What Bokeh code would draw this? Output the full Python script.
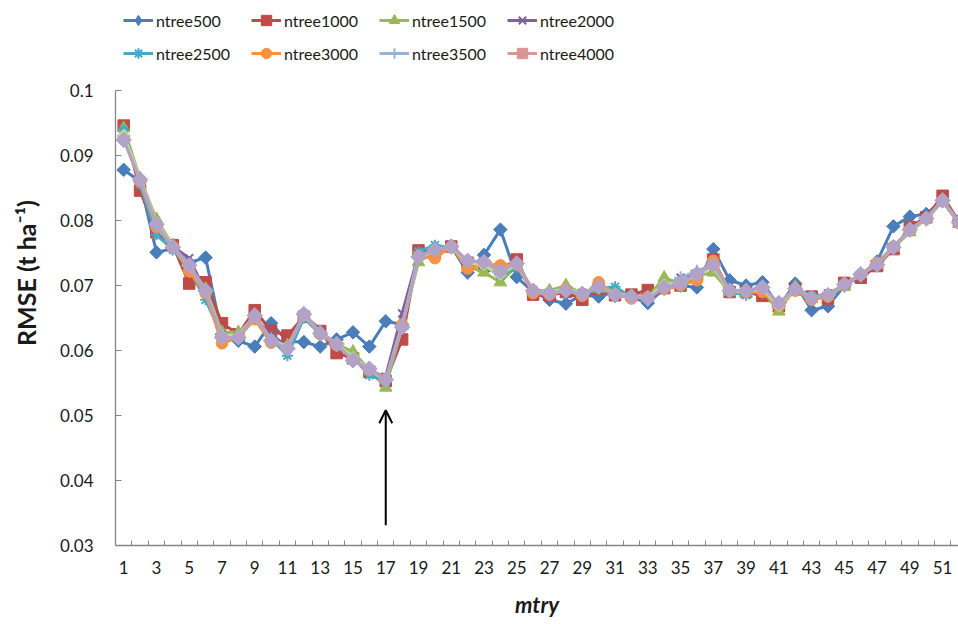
import numpy as np
from bokeh.plotting import figure
from bokeh.models import Range1d, FixedTicker, Legend, LegendItem, Arrow, OpenHead
from bokeh.embed import file_html
from bokeh.resources import INLINE

mtry = list(range(1, 53))

ntree500 = [0.0878, 0.0860, 0.0751, 0.0757, 0.0735, 0.0743, 0.0625, 0.0615, 0.0606, 0.0642,
            0.0614, 0.0613, 0.0606, 0.0617, 0.0628, 0.0606, 0.0645, 0.0640, 0.0745, 0.0758,
            0.0760, 0.0720, 0.0747, 0.0786, 0.0713, 0.0690, 0.0678, 0.0672, 0.0685, 0.0683,
            0.0690, 0.0682, 0.0673, 0.0695, 0.0700, 0.0697, 0.0756, 0.0708, 0.0700, 0.0705,
            0.0668, 0.0703, 0.0662, 0.0668, 0.0700, 0.0716, 0.0737, 0.0791, 0.0806, 0.0810,
            0.0831, 0.0800]
ntree1000 = [0.0946, 0.0846, 0.0782, 0.0762, 0.0703, 0.0705, 0.0642, 0.0625, 0.0662, 0.0630,
             0.0623, 0.0652, 0.0630, 0.0596, 0.0588, 0.0567, 0.0553, 0.0617, 0.0754, 0.0750,
             0.0760, 0.0735, 0.0730, 0.0725, 0.0740, 0.0686, 0.0685, 0.0690, 0.0678, 0.0695,
             0.0685, 0.0686, 0.0693, 0.0696, 0.0700, 0.0715, 0.0740, 0.0690, 0.0690, 0.0684,
             0.0668, 0.0694, 0.0683, 0.0680, 0.0704, 0.0712, 0.0730, 0.0756, 0.0790, 0.0805,
             0.0838, 0.0798]
ntree1500 = [0.0942, 0.0865, 0.0802, 0.0762, 0.0728, 0.0695, 0.0628, 0.0628, 0.0650, 0.0618,
             0.0608, 0.0652, 0.0628, 0.0610, 0.0598, 0.0570, 0.0543, 0.0638, 0.0736, 0.0752,
             0.0760, 0.0730, 0.0720, 0.0705, 0.0730, 0.0692, 0.0692, 0.0700, 0.0688, 0.0695,
             0.0690, 0.0685, 0.0682, 0.0712, 0.0703, 0.0715, 0.0720, 0.0690, 0.0688, 0.0693,
             0.0660, 0.0698, 0.0680, 0.0684, 0.0698, 0.0718, 0.0732, 0.0758, 0.0782, 0.0802,
             0.0830, 0.0795]
ntree2000 = [0.0936, 0.0858, 0.0790, 0.0760, 0.0742, 0.0690, 0.0625, 0.0622, 0.0650, 0.0625,
             0.0605, 0.0655, 0.0632, 0.0605, 0.0590, 0.0568, 0.0560, 0.0657, 0.0748, 0.0755,
             0.0762, 0.0736, 0.0733, 0.0718, 0.0730, 0.0690, 0.0686, 0.0693, 0.0689, 0.0697,
             0.0688, 0.0683, 0.0685, 0.0698, 0.0712, 0.0718, 0.0728, 0.0694, 0.0688, 0.0695,
             0.0670, 0.0693, 0.0680, 0.0688, 0.0700, 0.0716, 0.0733, 0.0758, 0.0786, 0.0802,
             0.0830, 0.0796]
ntree2500 = [0.0940, 0.0855, 0.0778, 0.0755, 0.0725, 0.0678, 0.0622, 0.0620, 0.0652, 0.0618,
             0.0592, 0.0650, 0.0625, 0.0608, 0.0590, 0.0562, 0.0552, 0.0635, 0.0752, 0.0762,
             0.0758, 0.0738, 0.0730, 0.0715, 0.0728, 0.0693, 0.0690, 0.0692, 0.0686, 0.0695,
             0.0698, 0.0682, 0.0683, 0.0700, 0.0705, 0.0716, 0.0730, 0.0690, 0.0685, 0.0693,
             0.0670, 0.0696, 0.0684, 0.0686, 0.0700, 0.0716, 0.0733, 0.0758, 0.0786, 0.0803,
             0.0830, 0.0797]
ntree3000 = [0.0925, 0.0860, 0.0790, 0.0760, 0.0722, 0.0688, 0.0611, 0.0620, 0.0648, 0.0612,
             0.0605, 0.0655, 0.0625, 0.0608, 0.0586, 0.0570, 0.0556, 0.0640, 0.0745, 0.0742,
             0.0760, 0.0726, 0.0733, 0.0731, 0.0732, 0.0688, 0.0686, 0.0694, 0.0684, 0.0705,
             0.0686, 0.0680, 0.0682, 0.0695, 0.0700, 0.0708, 0.0738, 0.0692, 0.0690, 0.0690,
             0.0668, 0.0692, 0.0678, 0.0683, 0.0702, 0.0717, 0.0735, 0.0760, 0.0785, 0.0803,
             0.0830, 0.0796]
ntree3500 = [0.0930, 0.0862, 0.0792, 0.0758, 0.0730, 0.0690, 0.0622, 0.0621, 0.0652, 0.0616,
             0.0602, 0.0654, 0.0628, 0.0609, 0.0587, 0.0571, 0.0556, 0.0637, 0.0745, 0.0756,
             0.0760, 0.0737, 0.0735, 0.0721, 0.0733, 0.0693, 0.0688, 0.0691, 0.0688, 0.0698,
             0.0686, 0.0683, 0.0681, 0.0698, 0.0712, 0.0722, 0.0733, 0.0692, 0.0691, 0.0696,
             0.0673, 0.0695, 0.0681, 0.0686, 0.0702, 0.0717, 0.0732, 0.0759, 0.0786, 0.0803,
             0.0831, 0.0797]
ntree4000 = [0.0928, 0.0864, 0.0795, 0.0760, 0.0733, 0.0693, 0.0621, 0.0622, 0.0655, 0.0614,
             0.0604, 0.0656, 0.0629, 0.0611, 0.0586, 0.0572, 0.0556, 0.0636, 0.0746, 0.0754,
             0.0760, 0.0739, 0.0735, 0.0724, 0.0736, 0.0691, 0.0687, 0.0693, 0.0686, 0.0699,
             0.0686, 0.0682, 0.0681, 0.0696, 0.0704, 0.0717, 0.0733, 0.0693, 0.0692, 0.0697,
             0.0672, 0.0694, 0.0681, 0.0685, 0.0702, 0.0716, 0.0733, 0.0758, 0.0787, 0.0803,
             0.0832, 0.0797]
# two further series drawn in the picture (pale green line, lavender markers) without legend entries
ntree4500 = [0.0932, 0.0866, 0.0797, 0.0761, 0.0729, 0.0694, 0.0624, 0.0623, 0.0653, 0.0617,
             0.0606, 0.0654, 0.0627, 0.0610, 0.0590, 0.0571, 0.0553, 0.0638, 0.0742, 0.0754,
             0.0760, 0.0735, 0.0731, 0.0716, 0.0733, 0.0692, 0.0690, 0.0695, 0.0688, 0.0697,
             0.0688, 0.0684, 0.0682, 0.0702, 0.0704, 0.0716, 0.0728, 0.0691, 0.0690, 0.0695,
             0.0668, 0.0696, 0.0681, 0.0685, 0.0701, 0.0717, 0.0732, 0.0758, 0.0785, 0.0802,
             0.0831, 0.0796]
ntree5000 = [0.0924, 0.0863, 0.0794, 0.0759, 0.0731, 0.0692, 0.0620, 0.0620, 0.0654, 0.0615,
             0.0603, 0.0656, 0.0626, 0.0610, 0.0585, 0.0572, 0.0555, 0.0636, 0.0744, 0.0755,
             0.0760, 0.0738, 0.0736, 0.0722, 0.0734, 0.0692, 0.0688, 0.0692, 0.0687, 0.0698,
             0.0685, 0.0683, 0.0680, 0.0697, 0.0703, 0.0718, 0.0732, 0.0692, 0.0692, 0.0697,
             0.0673, 0.0695, 0.0681, 0.0685, 0.0702, 0.0717, 0.0732, 0.0759, 0.0786, 0.0803,
             0.0831, 0.0797]

y_ticks = [0.03, 0.04, 0.05, 0.06, 0.07, 0.08, 0.09, 0.1]
y_tick_labels = ["0.03", "0.04", "0.05", "0.06", "0.07", "0.08", "0.09", "0.1"]
x_ticks = list(range(1, 52, 2))

FONT = "Lato"
TXT = "#1a1a1a"

# the frame reaches the top of the page so that the legend rows can sit above 0.1;
# the axis line itself is bounded to 0.03..0.1
y_top = 0.1 + 90 / 6500
p = figure(width=958, height=624, output_backend="svg", toolbar_location=None,
           x_range=Range1d(0.5, 51.97), y_range=Range1d(0.03, y_top),
           min_border_left=115, min_border_right=0, min_border_top=0, min_border_bottom=79)
p.outline_line_color = None
p.grid.grid_line_color = None
p.background_fill_color = "white"
p.border_fill_color = "white"

# name, values, colour, plot marker, size, angle, legend marker (None = not in legend)
series = [
    ("ntree500", ntree500, "#4A7EBB", "square", 9.5, np.pi / 4, "diamond"),
    ("ntree1000", ntree1000, "#BE4B48", "square", 11.5, 0, "square"),
    ("ntree1500", ntree1500, "#98B954", "triangle", 12.5, 0, "triangle"),
    ("ntree2000", ntree2000, "#7D60A0", "x", 11, 0, "x"),
    ("ntree2500", ntree2500, "#46AAC5", "asterisk", 11, 0, "asterisk"),
    ("ntree3000", ntree3000, "#F69240", "circle", 11.5, 0, "circle"),
    ("ntree3500", ntree3500, "#95B3D7", "cross", 13, 0, "cross"),
    ("ntree4000", ntree4000, "#D99694", "square", 6, 0, "square"),
    ("ntree4500", ntree4500, "#C3D69B", "square", 8, np.pi / 4, None),
    ("ntree5000", ntree5000, "#B3A2C7", "square", 11, np.pi / 4, None),
]

items_row1, items_row2 = [], []
for i, (name, vals, col, mk, sz, ang, lmk) in enumerate(series):
    lw = 2 if mk in ("x", "asterisk", "cross") else 1
    r_line = p.line(mtry, vals, line_color=col, line_width=3)
    r_sw = None
    if lmk is not None and (lmk != mk or ang != 0):
        # diamond drawn underneath the rotated squares (fully covered); used for the legend swatch
        r_sw = p.scatter(mtry, vals, marker=lmk, size=sz * 1.3, fill_color=col,
                         line_color=col, line_width=lw)
    r_pt = p.scatter(mtry, vals, marker=mk, size=sz, angle=ang,
                     fill_color=col, line_color=col, line_width=lw)
    if lmk is None:
        continue
    it = LegendItem(label=name, renderers=[r_line, r_sw if r_sw is not None else r_pt])
    (items_row1 if i < 4 else items_row2).append(it)

for items, ypos in ((items_row1, 512), (items_row2, 479)):
    lg = Legend(items=items, orientation="horizontal", location=(8, ypos),
                glyph_width=30, glyph_height=26, label_height=26, label_width=88,
                label_standoff=3, spacing=7, padding=0, margin=0,
                border_line_color=None, background_fill_alpha=0,
                label_text_font=FONT, label_text_font_size="16px",
                label_text_color=TXT)
    p.add_layout(lg, "center")

# axes
xa = p.xaxis[0]
xa.ticker = FixedTicker(ticks=x_ticks, minor_ticks=[k + 0.5 for k in range(0, 53)])
xa.major_tick_in = 0
xa.major_tick_out = 0
xa.minor_tick_in = 5
xa.minor_tick_out = 0
xa.minor_tick_line_color = "#868686"
xa.axis_line_color = "#868686"
xa.axis_line_width = 1.3
xa.major_label_text_font = FONT
xa.major_label_text_font_size = "17px"
xa.major_label_text_color = TXT
xa.major_label_standoff = 15
xa.axis_label = "mtry"
xa.axis_label_text_font = FONT
xa.axis_label_text_font_style = "bold italic"
xa.axis_label_text_font_size = "22px"
xa.axis_label_text_color = TXT
xa.axis_label_standoff = 14

ya = p.yaxis[0]
ya.ticker = FixedTicker(ticks=y_ticks, minor_ticks=[])
ya.bounds = (0.03, 0.1)
ya.major_label_overrides = {t: l for t, l in zip(y_ticks, y_tick_labels)}
ya.major_tick_in = 6
ya.major_tick_out = 0
ya.major_tick_line_color = "#868686"
ya.axis_line_color = "#868686"
ya.axis_line_width = 1.3
ya.major_label_text_font = FONT
ya.major_label_text_font_size = "17px"
ya.major_label_text_color = TXT
ya.major_label_standoff = 22
ya.axis_label = "RMSE (t ha\u207b\u00b9)"
ya.axis_label_text_font = FONT
ya.axis_label_text_font_style = "bold"
ya.axis_label_text_font_size = "25px"
ya.axis_label_text_color = TXT
ya.axis_label_standoff = 16

p.add_layout(Arrow(end=OpenHead(size=13, line_width=2, line_color="black"),
                   x_start=17, y_start=0.0331, x_end=17, y_end=0.0508,
                   line_width=2, line_color="black"))

open("out.html", "w").write(file_html(p, INLINE))
